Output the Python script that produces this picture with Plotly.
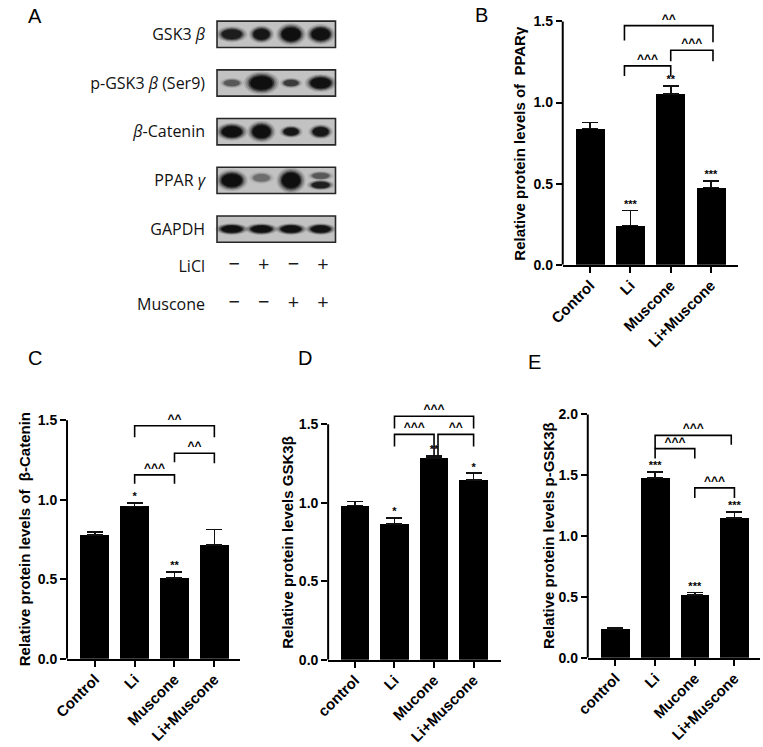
import plotly.graph_objects as go

W, H = 763, 747

# ---------------- Panel A (western blot) data ----------------
blot_labels = ["GSK3 <i>β</i>", "p-GSK3 <i>β</i> (Ser9)", "<i>β</i>-Catenin", "PPAR <i>γ</i>", "GAPDH"]
treat_labels = ["LiCl", "Muscone"]
licl_signs = ["−", "+", "−", "+"]
muscone_signs = ["−", "−", "+", "+"]
lanes = [0, 1, 2, 3]
# band darkness (0-1), width (lane units), height (fraction of box half height)
band_darkness = [
    [0.80, 0.90, 1.00, 0.97],
    [0.38, 1.00, 0.55, 0.97],
    [1.00, 1.00, 0.88, 0.90],
    [1.00, 0.28, 1.00, 0.38],
    [0.97, 0.97, 0.97, 0.95],
]
band_width = [
    [0.85, 0.68, 0.80, 0.78],
    [0.66, 0.95, 0.62, 0.85],
    [0.85, 0.76, 0.62, 0.66],
    [0.85, 0.70, 0.78, 0.72],
    [0.88, 0.88, 0.85, 0.82],
]
band_height = [
    [0.50, 0.55, 0.68, 0.62],
    [0.32, 0.70, 0.32, 0.55],
    [0.55, 0.66, 0.38, 0.45],
    [0.66, 0.38, 0.78, 0.30],
    [0.36, 0.36, 0.36, 0.36],
]
band_offset = [
    [0, 0, 0, 0],
    [0, 0, 0, 0],
    [0, 0, 0, 0],
    [0, -0.2, 0, -0.35],
    [0, 0, 0, 0],
]
# extra (second) band: row, lane, offset, darkness, width, height
extra_bands = [(3, 3, 0.35, 0.78, 0.74, 0.32)]

# ---------------- Panels B-E data ----------------
groups_BC = ["Control", "Li", "Muscone", "Li+Muscone"]
groups_DE = ["control", "Li", "Mucone", "Li+Muscone"]
x_idx = [0, 1, 2, 3]

ppar_mean = [0.839, 0.241, 1.052, 0.476]
ppar_sem = [0.037, 0.093, 0.051, 0.039]
ppar_stars = ["", "***", "**", "***"]
ppar_brackets = [(0.85, 2.0, 1.226, 1.164, 1.164, "^^^"),
                 (2.0, 3.05, 1.322, 1.255, 1.255, "^^^"),
                 (0.85, 3.05, 1.474, 1.382, 1.372, "^^")]

cat_mean = [0.777, 0.958, 0.506, 0.715]
cat_sem = [0.021, 0.021, 0.040, 0.098]
cat_stars = ["", "*", "**", ""]
cat_brackets = [(1, 2, 1.156, 1.100, 1.100, "^^^"),
                (2, 3, 1.292, 1.235, 1.229, "^^"),
                (1, 3, 1.465, 1.392, 1.392, "^^")]

gsk_mean = [0.981, 0.863, 1.284, 1.145]
gsk_sem = [0.027, 0.040, 0.014, 0.042]
gsk_stars = ["", "*", "**", "*"]
gsk_brackets = [(1, 2, 1.435, 1.357, 1.300, "^^^"),
                (2.1, 3, 1.435, 1.300, 1.357, "^^"),
                (1, 3, 1.550, 1.473, 1.473, "^^^")]

pgsk_mean = [0.235, 1.478, 0.514, 1.150]
pgsk_sem = [0.014, 0.049, 0.021, 0.049]
pgsk_stars = ["", "***", "***", "***"]
pgsk_brackets = [(1, 2, 1.719, 1.637, 1.637, "^^^"),
                 (1, 2.92, 1.828, 1.719, 1.751, "^^^"),
                 (2, 3, 1.396, 1.314, 1.314, "^^^")]

BAR_FONT = "Liberation Sans, Arial, sans-serif"
BLOT_FONT = "Open Sans, Noto Sans, sans-serif"

fig = go.Figure()
shapes = []
annotations = []

# ---------------- Panel A ----------------
ROW0_PX, ROW_SP = 33.7, 49.3
BOX_L, BOX_R = 206.8, 327.5
lane_px = (BOX_R - BOX_L) / 4
xa_range = [-0.6, 3.6]
xa_dom = [(BOX_L - 0.1 * lane_px) / W, (BOX_R + 0.1 * lane_px) / W]
ya_top_px, ya_bot_px = 0, 320
ya_range = [(ya_bot_px - ROW0_PX) / ROW_SP, (ya_top_px - ROW0_PX) / ROW_SP]
ya_dom = [1 - ya_bot_px / H, 1 - ya_top_px / H]
HALF_BOX = 13.3 / ROW_SP
LICL_Y = (268.3 - ROW0_PX) / ROW_SP
MUS_Y = (306.7 - ROW0_PX) / ROW_SP

f_w = [1.26, 1.13, 1.0, 0.9, 0.8]
f_h = [1.25, 1.12, 1.0, 0.88, 0.74]
alph = [0.12, 0.18, 0.30, 0.50, 0.78]


def band(row, lane, off, dark, w, h):
    cy = row + off * HALF_BOX
    out = []
    for fw, fh, a in zip(f_w, f_h, alph):
        hw = w / 2 * fw
        hh = h * HALF_BOX * fh
        out.append(dict(type="circle", xref="x", yref="y",
                        x0=lane - hw, x1=lane + hw, y0=cy - hh, y1=cy + hh,
                        fillcolor=f"rgba(5,5,5,{a * dark:.3f})",
                        line=dict(width=0), layer="above"))
    return out


for r in range(len(blot_labels)):
    shapes.append(dict(type="rect", xref="x", yref="y", x0=-0.5, x1=3.5,
                       y0=r - HALF_BOX, y1=r + HALF_BOX,
                       fillcolor="#c2c2c2", line=dict(width=0), layer="above"))
    for ln in lanes:
        shapes += band(r, ln, band_offset[r][ln], band_darkness[r][ln],
                       band_width[r][ln], band_height[r][ln])
for (r, ln, off, d, w, h) in extra_bands:
    shapes += band(r, ln, off, d, w, h)
for r in range(len(blot_labels)):
    shapes.append(dict(type="rect", xref="x", yref="y", x0=-0.5, x1=3.5,
                       y0=r - HALF_BOX, y1=r + HALF_BOX,
                       fillcolor="rgba(0,0,0,0)", line=dict(width=1.6, color="#262626"),
                       layer="above"))

for yy, signs in [(LICL_Y, licl_signs), (MUS_Y, muscone_signs)]:
    fig.add_trace(go.Scatter(x=[l + 0.08 for l in lanes], y=[yy] * 4, text=signs,
                             mode="text", textfont=dict(family=BLOT_FONT, size=20, color="#1a1a1a"),
                             xaxis="x", yaxis="y", cliponaxis=False, hoverinfo="skip"))

layout_axes = {}
layout_axes["xaxis"] = dict(domain=xa_dom, range=xa_range, visible=False, anchor="y")
layout_axes["yaxis"] = dict(domain=ya_dom, range=ya_range, anchor="x",
                            tickvals=list(range(len(blot_labels))) + [LICL_Y, MUS_Y],
                            ticktext=blot_labels + treat_labels,
                            tickfont=dict(family=BLOT_FONT, size=16, color="#111"),
                            showgrid=False, zeroline=False, showline=False,
                            ticks="", ticklabelstandoff=8)

# ---------------- Bar panels ----------------
panels = [
    dict(n=2, cats=groups_BC, mean=ppar_mean, sem=ppar_sem, stars=ppar_stars, br=ppar_brackets,
         xl=559, xr=738, c0=587, sp=41.0, y0=267, ytm=20.7, tmax=1.5, rtop=1.62,
         title="Relative protein levels of  PPARγ", tx=515),
    dict(n=3, cats=groups_BC, mean=cat_mean, sem=cat_sem, stars=cat_stars, br=cat_brackets,
         xl=54, xr=230, c0=82.3, sp=40.6, y0=665.7, ytm=424.3, tmax=1.5, rtop=1.62,
         title="Relative protein levels of  β-Catenin", tx=11),
    dict(n=4, cats=groups_DE, mean=gsk_mean, sem=gsk_sem, stars=gsk_stars, br=gsk_brackets,
         xl=320, xr=496, c0=347.3, sp=40.3, y0=666.7, ytm=428.3, tmax=1.5, rtop=1.66,
         title="Relative protein levels GSK3β", tx=279),
    dict(n=5, cats=groups_DE, mean=pgsk_mean, sem=pgsk_sem, stars=pgsk_stars, br=pgsk_brackets,
         xl=584.5, xr=760, c0=612.7, sp=40.4, y0=664.7, ytm=418.5, tmax=2.0, rtop=2.06,
         title="Relative protein levels p-GSK3β", tx=544),
]

for p in panels:
    n = p["n"]
    xs, ys = f"x{n}", f"y{n}"
    ppu = (p["y0"] - p["ytm"]) / p["tmax"]
    xr = [(p["xl"] - p["c0"]) / p["sp"], (p["xr"] - p["c0"]) / p["sp"]]
    top_px = p["y0"] - p["rtop"] * ppu
    fig.add_trace(go.Bar(x=x_idx, y=p["mean"], width=0.72, marker=dict(color="black", line=dict(width=0)),
                         error_y=dict(type="data", array=p["sem"], arrayminus=[0 for _ in p["sem"]],
                                      symmetric=False, color="#111", thickness=1.6, width=8),
                         xaxis=xs, yaxis=ys, hoverinfo="skip"))
    tops = [m + s for m, s in zip(p["mean"], p["sem"])]
    fig.add_trace(go.Scatter(x=x_idx, y=tops, text=p["stars"], mode="text", textposition="top center",
                             textfont=dict(family=BAR_FONT, size=11, color="black", weight="bold"),
                             xaxis=xs, yaxis=ys, cliponaxis=False, hoverinfo="skip"))
    for (i, j, yt, yli, ylj, lab) in p["br"]:
        fig.add_trace(go.Scatter(x=[i, i, j, j], y=[yli, yt, yt, ylj], mode="lines",
                                 line=dict(color="black", width=1.6),
                                 xaxis=xs, yaxis=ys, cliponaxis=False, hoverinfo="skip"))
        fig.add_trace(go.Scatter(x=[(i + j) / 2], y=[yt], text=[lab], mode="text",
                                 textposition="top center",
                                 textfont=dict(family=BAR_FONT, size=12, color="black", weight="bold"),
                                 xaxis=xs, yaxis=ys, cliponaxis=False, hoverinfo="skip"))
    tv = [k * 0.5 for k in range(int(round(p["tmax"] / 0.5)) + 1)]
    layout_axes[f"xaxis{n}"] = dict(domain=[p["xl"] / W, p["xr"] / W], range=xr, anchor=ys,
                                    tickvals=x_idx, ticktext=p["cats"], tickangle=-45,
                                    tickfont=dict(family=BAR_FONT, size=15, color="black", weight="bold"),
                                    showline=True, linecolor="black", linewidth=2,
                                    ticks="outside", ticklen=6, tickwidth=2, tickcolor="black",
                                    ticklabelstandoff=-2,
                                    showgrid=False, zeroline=False)
    layout_axes[f"yaxis{n}"] = dict(domain=[1 - p["y0"] / H, 1 - top_px / H], range=[0, p["rtop"]],
                                    anchor=xs, tickvals=tv, ticktext=[f"{v:.1f}" for v in tv],
                                    tickfont=dict(family=BAR_FONT, size=14, color="black", weight="bold"),
                                    showline=False, ticks="outside", ticklen=6, tickwidth=2,
                                    tickcolor="black", showgrid=False, zeroline=False)
    shapes.append(dict(type="line", xref="paper", yref=ys, x0=p["xl"] / W, x1=p["xl"] / W,
                       y0=0, y1=p["tmax"], line=dict(color="black", width=2)))
    annotations.append(dict(text=f"<b>{p['title']}</b>", x=p["tx"] / W,
                            y=1 - (p["y0"] + p["ytm"]) / 2 / H, xref="paper", yref="paper",
                            textangle=-90, showarrow=False, xanchor="center", yanchor="middle",
                            font=dict(family=BAR_FONT, size=15, color="black")))

# panel letters
for lab, lx, ly in [("A", 12.3, 15.3), ("B", 468, 14.2), ("C", 12.7, 361.5), ("D", 287, 361.5), ("E", 521.7, 365.5)]:
    annotations.append(dict(text=lab, x=lx / W, y=1 - ly / H, xref="paper", yref="paper",
                            showarrow=False, xanchor="left", yanchor="middle",
                            font=dict(family=BAR_FONT, size=20, color="black")))

fig.update_layout(width=W, height=H, autosize=False, margin=dict(l=0, r=0, t=0, b=0),
                  paper_bgcolor="white", plot_bgcolor="white", showlegend=False,
                  shapes=shapes, annotations=annotations, bargap=0, **layout_axes)

fig.write_html("out.html", config={"displayModeBar": False},
               post_script="document.body.style.margin='0';document.body.style.overflow='hidden';")
